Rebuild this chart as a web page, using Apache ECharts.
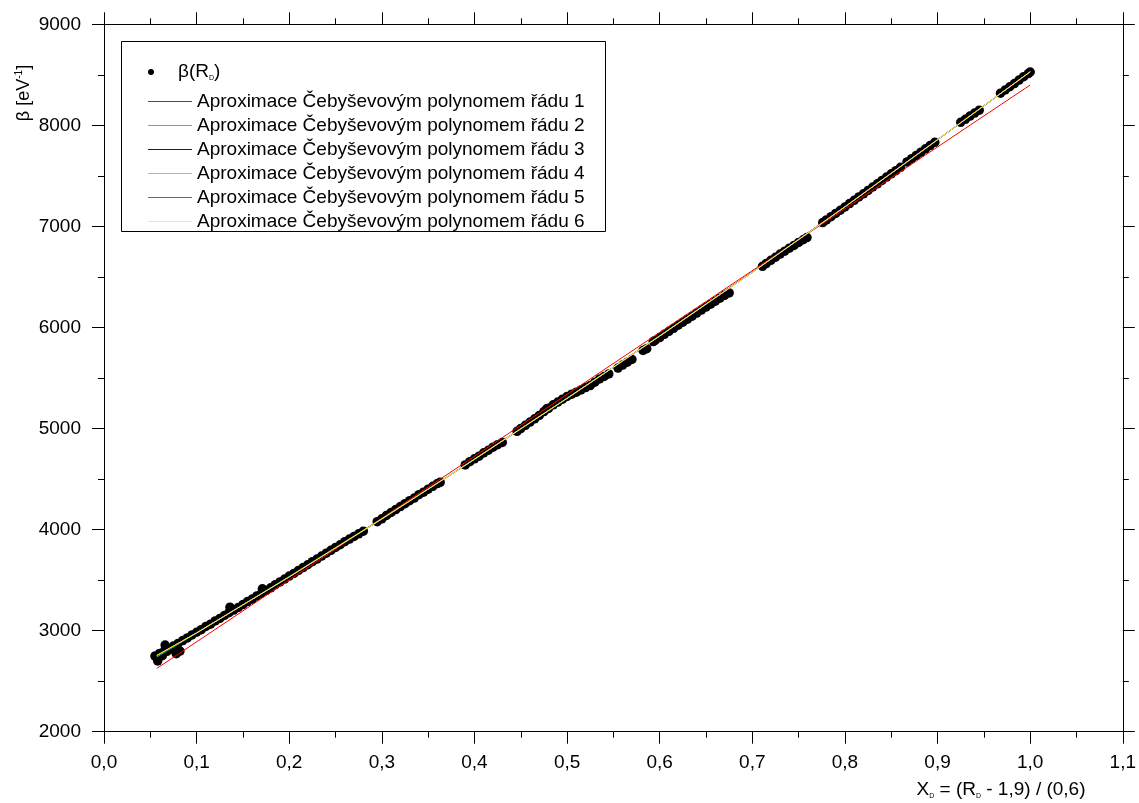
<!DOCTYPE html>
<html><head><meta charset="utf-8">
<script src="https://cdn.jsdelivr.net/npm/echarts@6/dist/echarts.min.js"></script>
<style>html,body{margin:0;padding:0;background:#fff}#c{width:1139px;height:803px}</style>
</head><body><div id="c"></div>
<script>
const xTickLabels = ['0,0','0,1','0,2','0,3','0,4','0,5','0,6','0,7','0,8','0,9','1,0','1,1'];
const yTickLabels = ['2000','3000','4000','5000','6000','7000','8000','9000'];

const betaX = [
  0.055,0.058,0.060,0.063,0.065,0.066,0.068,0.070,0.073,0.075,0.078,0.080,0.082,0.085,0.090,0.095,
  0.100,0.105,0.110,0.115,0.120,0.125,0.130,0.135,0.136,0.140,0.145,0.150,0.155,0.160,0.165,0.170,
  0.171,0.175,0.180,0.185,0.190,0.195,0.200,0.205,0.210,0.215,0.220,0.225,0.230,0.235,0.240,0.245,
  0.250,0.255,0.260,0.265,0.270,0.275,0.280,
  0.295,0.300,0.305,0.310,0.315,0.320,0.325,0.330,0.335,0.340,0.345,0.350,0.355,0.360,0.363,
  0.390,0.395,0.400,0.405,0.410,0.415,0.420,0.425,0.430,
  0.446,0.450,0.455,0.460,0.465,0.470,0.475,0.478,0.480,0.485,0.490,0.495,0.500,0.505,0.510,0.515,0.520,0.525,
  0.530,0.535,0.540,0.545,
  0.555,0.560,0.565,0.570,
  0.582,0.586,
  0.593,0.595,0.600,0.605,0.610,0.615,0.620,0.625,0.630,0.635,0.640,0.645,0.650,0.655,0.660,0.665,0.670,0.675,
  0.711,0.715,0.720,0.725,0.730,0.735,0.740,0.745,0.750,0.755,0.759,
  0.776,0.780,0.785,0.790,0.795,0.800,0.805,0.810,0.815,0.820,0.825,0.830,0.835,0.840,0.845,0.850,0.855,0.860,
  0.867,0.872,0.877,0.882,0.887,0.892,0.897,
  0.925,0.930,0.935,0.940,0.945,
  0.968,0.973,0.978,0.983,0.988,0.993,0.998,1.000
];
const betaY = [
  2748,2700,2775,2752,2798,2858,2795,2820,2818,2848,2772,2874,2798,2902,2928,2958,
  2984,3010,3042,3064,3096,3120,3150,3178,3232,3204,3230,3258,3288,3312,3344,3370,
  3414,3396,3424,3455,3482,3510,3540,3566,3596,3624,3652,3682,3708,3738,3766,3795,
  3823,3850,3880,3906,3932,3958,3984,
  4078,4106,4140,4170,4198,4228,4256,4286,4312,4345,4370,4400,4428,4455,4468,
  4640,4672,4700,4726,4760,4785,4815,4840,4862,
  4972,5000,5032,5064,5096,5130,5168,5195,5200,5235,5262,5290,5318,5340,5360,5382,5405,5425,
  5458,5490,5515,5540,
  5598,5628,5656,5684,
  5772,5790,
  5860,5872,5900,5932,5962,5992,6022,6052,6082,6112,6142,6172,6202,6230,6260,6290,6318,6342,
  6605,6632,6665,6695,6726,6755,6785,6812,6842,6868,6890,
  7038,7064,7096,7128,7160,7192,7226,7258,7292,7322,7356,7390,7422,7455,7488,7520,7552,7585,
  7638,7670,7702,7735,7768,7800,7832,
  8030,8060,8092,8122,8150,
  8318,8350,8382,8414,8448,8482,8512,8528
];

const fit1X = [0.057, 1.0];
const fit1Y = [2626, 8399];
const fitX  = [0.057, 0.1, 0.2, 0.3, 0.4, 0.5, 0.6, 0.7, 0.8, 0.9, 1.0];
const fit2Y = [2740, 2976, 3536, 4109, 4698, 5300, 5918, 6549, 7195, 7856, 8531];
const fit3Y = [2748, 2980, 3535, 4106, 4694, 5297, 5916, 6549, 7196, 7857, 8528];
const fit4Y = [2752, 2979, 3532, 4104, 4695, 5300, 5917, 6546, 7193, 7858, 8530];
const fit5Y = [2754, 2978, 3531, 4105, 4697, 5299, 5914, 6545, 7195, 7859, 8529];
const fit6Y = [2755, 2977, 3532, 4106, 4696, 5298, 5915, 6546, 7194, 7858, 8530];

const fitNames = [
  'Aproximace Čebyševovým polynomem řádu 1',
  'Aproximace Čebyševovým polynomem řádu 2',
  'Aproximace Čebyševovým polynomem řádu 3',
  'Aproximace Čebyševovým polynomem řádu 4',
  'Aproximace Čebyševovým polynomem řádu 5',
  'Aproximace Čebyševovým polynomem řádu 6'
];
const fitColors = ['#ff0000','#00ff00','#0000ff','#00ffff','#ff00ff','#ffff00'];

const FONT = 'Liberation Sans, Arial, sans-serif';
const pairs = (xs, ys) => xs.map((x, i) => [x, ys[i]]);
const fitData = [pairs(fit1X, fit1Y), pairs(fitX, fit2Y), pairs(fitX, fit3Y),
                 pairs(fitX, fit4Y), pairs(fitX, fit5Y), pairs(fitX, fit6Y)];

const axisCommon = {
  axisLine: { show: true, onZero: false, lineStyle: { color: '#000', width: 1 } },
  axisTick: { show: true, inside: false, length: 12, lineStyle: { color: '#000', width: 1 } },
  minorTick: { show: true, splitNumber: 2, length: 6, lineStyle: { color: '#000', width: 1 } },
  splitLine: { show: false },
  minorSplitLine: { show: false }
};

const chart = echarts.init(document.getElementById('c'), null, { renderer: 'canvas' });
chart.setOption({
  animation: false,
  backgroundColor: '#fff',
  grid: { left: 104, right: 15.5, top: 24.3, bottom: 71.3, containLabel: false },
  xAxis: [
    Object.assign({ type: 'value', min: 0, max: 1.1, interval: 0.1, position: 'bottom',
      axisLabel: { show: true, margin: 22, color: '#000', fontSize: 19, fontFamily: FONT,
        formatter: v => xTickLabels[Math.round(v * 10)] } }, axisCommon),
    Object.assign({ type: 'value', min: 0, max: 1.1, interval: 0.1, position: 'top',
      axisLabel: { show: false } }, axisCommon)
  ],
  yAxis: [
    Object.assign({ type: 'value', min: 2000, max: 9000, interval: 1000, position: 'left',
      axisLabel: { show: true, margin: 23, color: '#000', fontSize: 19, fontFamily: FONT,
        formatter: v => yTickLabels[Math.round((v - 2000) / 1000)] } }, axisCommon),
    Object.assign({ type: 'value', min: 2000, max: 9000, interval: 1000, position: 'right',
      axisLabel: { show: false } }, axisCommon)
  ],
  legend: [
    {
      data: [{ name: 'beta', icon: 'circle', itemStyle: { color: '#000', borderColor: '#000', borderWidth: 0, opacity: 1 } }],
      orient: 'vertical', left: 148, top: 62, padding: 0,
      itemWidth: 44, itemHeight: 6, itemGap: 4,
      selectedMode: false,
      formatter: () => '{b|β(R}{s|D}{b|)}',
      textStyle: { color: '#000', fontFamily: FONT, fontSize: 19, lineHeight: 20,
        rich: { b: { fontSize: 19, lineHeight: 20, fontFamily: FONT, color: '#000' },
                s: { fontSize: 7, lineHeight: 8, verticalAlign: 'bottom', fontFamily: FONT, color: '#000' } } }
    },
    {
      data: fitNames.map((n, i) => ({ name: n, icon: 'rect',
        itemStyle: { color: fitColors[i], borderColor: fitColors[i], borderWidth: 0, opacity: 1 } })),
      orient: 'vertical', left: 148, top: 91.5, padding: 0,
      itemWidth: 44, itemHeight: 1, itemGap: 4,
      selectedMode: false,
      textStyle: { color: '#000', fontFamily: FONT, fontSize: 19, lineHeight: 20 }
    }
  ],
  graphic: [
    { type: 'rect', z: 100, shape: { x: 121.5, y: 41.5, width: 484, height: 190 },
      style: { fill: 'none', stroke: '#000', lineWidth: 1 } },
    { type: 'text', z: 100, x: 24, y: 93, rotation: Math.PI / 2,
      style: { text: '{a|β [eV}{p|-1}{a|]}', align: 'center', verticalAlign: 'middle', fill: '#000',
        rich: { a: { fontSize: 18, lineHeight: 20, fontFamily: FONT, fill: '#000' },
                p: { fontSize: 10, lineHeight: 11, verticalAlign: 'top', fontFamily: FONT, fill: '#000' } } } },
    { type: 'text', z: 100, x: 1001, y: 790,
      style: { text: '{a|X}{s|D}{a| = (R}{s|D}{a| - 1,9) / (0,6)}', align: 'center', verticalAlign: 'middle', fill: '#000',
        rich: { a: { fontSize: 19, lineHeight: 20, fontFamily: FONT, fill: '#000' },
                s: { fontSize: 7, lineHeight: 8, verticalAlign: 'bottom', fontFamily: FONT, fill: '#000' } } } }
  ],
  series: [
    { type: 'scatter', name: 'beta', data: pairs(betaX, betaY), symbol: 'circle', symbolSize: 9.5,
      itemStyle: { color: '#000', opacity: 1 }, z: 2, silent: true }
  ].concat(fitNames.map((n, i) => ({
    type: 'line', name: n, data: fitData[i], symbol: 'none', showSymbol: false,
    lineStyle: { width: 1, color: fitColors[i], opacity: 1 }, itemStyle: { color: fitColors[i], borderColor: fitColors[i] },
    z: 3 + i, silent: true
  })))
});
</script>
</body></html>
